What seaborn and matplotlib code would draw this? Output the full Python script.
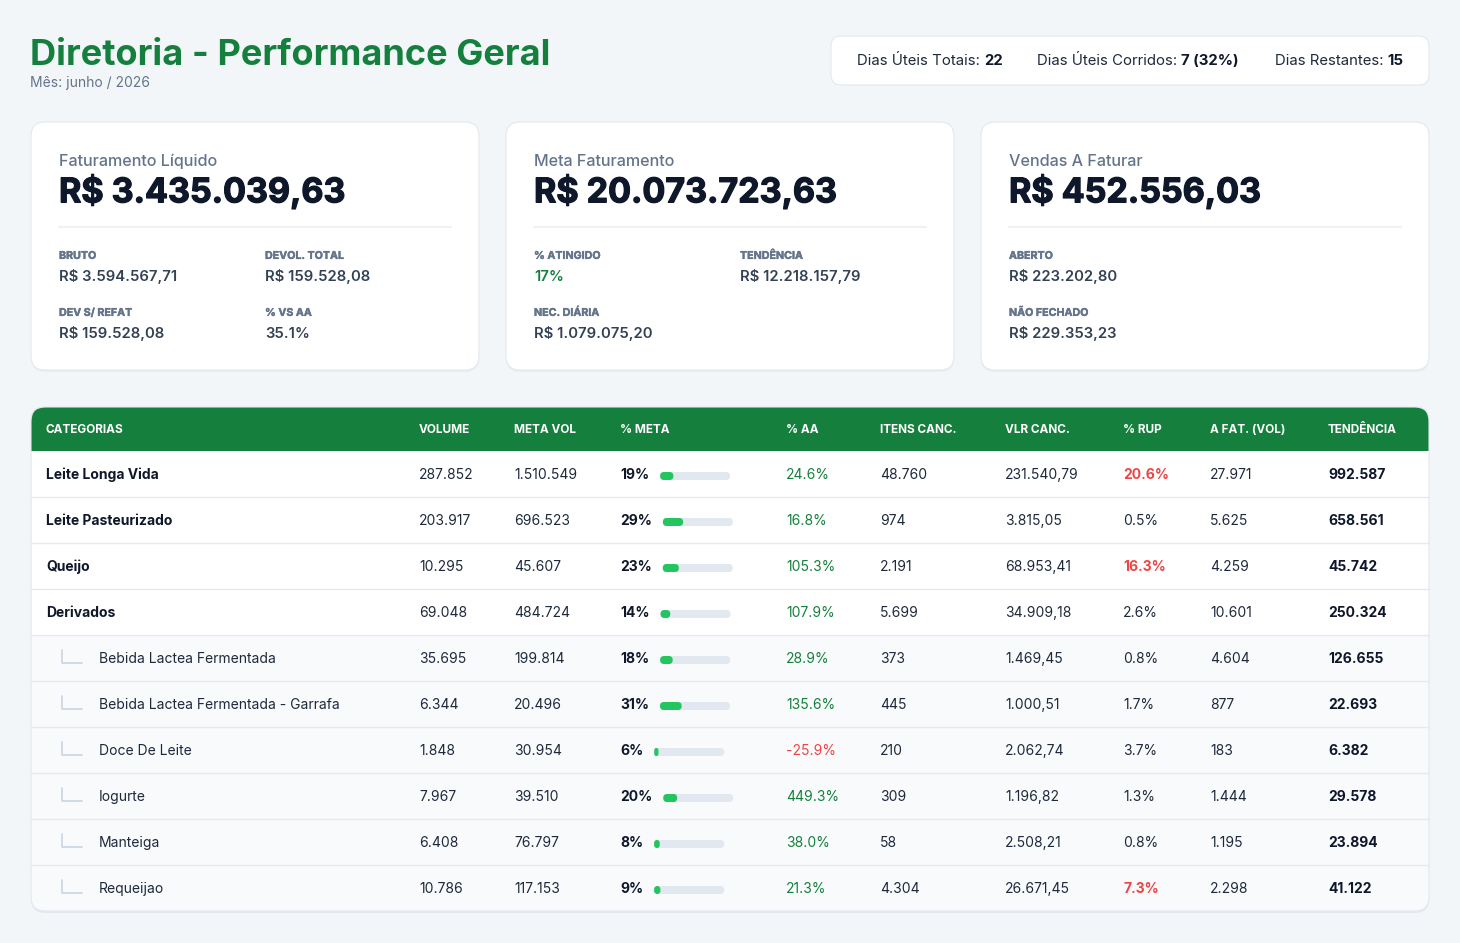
import matplotlib
matplotlib.use("Agg")
import matplotlib.pyplot as plt
import matplotlib.patheffects as pe
import seaborn as sns
import pandas as pd
from matplotlib.patches import FancyBboxPatch, Rectangle

# ---- dados ----
mes = "junho / 2026"
dias_totais = 22
dias_corridos = 7
dias_corridos_pct = 32
dias_restantes = 15

fat_liquido = 3435039.63
fat_bruto = 3594567.71
devol_total = 159528.08
dev_sem_refat = 159528.08
pct_vs_aa = 35.1

meta_fat = 20073723.63
pct_atingido = 17
tendencia_fat = 12218157.79
nec_diaria = 1079075.20

vendas_a_faturar = 452556.03
aberto = 223202.80
nao_fechado = 229353.23

categorias = ["Leite Longa Vida", "Leite Pasteurizado", "Queijo", "Derivados",
              "Bebida Lactea Fermentada", "Bebida Lactea Fermentada - Garrafa",
              "Doce De Leite", "Iogurte", "Manteiga", "Requeijao"]
nivel = [0, 0, 0, 0, 1, 1, 1, 1, 1, 1]
volume = [287852, 203917, 10295, 69048, 35695, 6344, 1848, 7967, 6408, 10786]
meta_vol = [1510549, 696523, 45607, 484724, 199814, 20496, 30954, 39510, 76797, 117153]
pct_meta = [19, 29, 23, 14, 18, 31, 6, 20, 8, 9]
pct_aa = [24.6, 16.8, 105.3, 107.9, 28.9, 135.6, -25.9, 449.3, 38.0, 21.3]
itens_canc = [48760, 974, 2191, 5699, 373, 445, 210, 309, 58, 4304]
vlr_canc = [231540.79, 3815.05, 68953.41, 34909.18, 1469.45, 1000.51, 2062.74, 1196.82, 2508.21, 26671.45]
pct_rup = [20.6, 0.5, 16.3, 2.6, 0.8, 1.7, 3.7, 1.3, 0.8, 7.3]
a_fat_vol = [27971, 5625, 4259, 10601, 4604, 877, 183, 1444, 1195, 2298]
tendencia = [992587, 658561, 45742, 250324, 126655, 22693, 6382, 29578, 23894, 41122]

colunas = ["CATEGORIAS", "VOLUME", "META VOL", "% META", "% AA", "ITENS CANC.",
           "VLR CANC.", "% RUP", "A FAT. (VOL)", "TENDÊNCIA"]

df = pd.DataFrame({"categoria": categorias, "nivel": nivel, "volume": volume,
                   "meta_vol": meta_vol, "pct_meta": pct_meta, "pct_aa": pct_aa,
                   "itens_canc": itens_canc, "vlr_canc": vlr_canc, "pct_rup": pct_rup,
                   "a_fat_vol": a_fat_vol, "tendencia": tendencia})


def br_int(n):
    return f"{n:,}".replace(",", ".")


def br_money(v):
    return "R$ " + f"{v:,.2f}".replace(",", "X").replace(".", ",").replace("X", ".")


def br_dec(v):
    return f"{v:,.2f}".replace(",", "X").replace(".", ",").replace("X", ".")


# ---- estilo ----
GREEN = "#15803d"
BAR_GREEN = "#22c55e"
RED = "#ef4444"
DARK = "#0f172a"
TEXT = "#1e293b"
VALUE = "#334155"
MUTED = "#64748b"
BORDER = "#e2e8f0"
BG = "#f3f6f9"

sns.set_theme(style="white")
plt.rcParams["font.family"] = ["Inter", "DejaVu Sans"]

W, H = 1460, 943
fig = plt.figure(figsize=(W / 100, H / 100), dpi=100, facecolor=BG)
ax = fig.add_axes([0, 0, 1, 1])
ax.set_xlim(0, W)
ax.set_ylim(H, 0)
ax.axis("off")
R = fig.canvas.get_renderer()


def width_of(s, size, weight="normal"):
    t = ax.text(0, 0, s, fontsize=size, fontweight=weight)
    w = t.get_window_extent(renderer=R).width
    t.remove()
    return w


def fit(s, target, weight="normal"):
    return 10 * target / width_of(s, 10, weight)


def txt(x, yc, s, size, color, weight="normal", ha="left"):
    # yc = centro visual das maiusculas
    base = yc + 0.727 * size * 100 / 72 / 2
    return ax.text(x, base, s, fontsize=size, color=color, fontweight=weight,
                   ha=ha, va="baseline")


def rbox(x, y, w, h, r, fc, ec="none", lw=0, z=1):
    p = FancyBboxPatch((x, y), w, h, boxstyle=f"round,pad=0,rounding_size={r}",
                       fc=fc, ec=ec, lw=lw, zorder=z)
    ax.add_patch(p)
    return p


S_TITLE = fit("Diretoria - Performance Geral", 521, "bold")
S_SUB = fit("Mês: junho / 2026", 120)
S_BOX = fit("Dias Restantes: 15", 129)
S_CARDT = fit("Faturamento Líquido", 159, "medium")
S_BIG = fit("R$ 3.435.039,63", 285, "bold")
S_LAB = fit("DEVOL. TOTAL", 79, "bold")
S_VAL = fit("R$ 3.594.567,71", 118, "semibold")
S_HEAD = fit("CATEGORIAS", 78, "bold")
S_ROW = fit("Bebida Lactea Fermentada - Garrafa", 241)

# ---- cabecalho ----
txt(30, 52, "Diretoria - Performance Geral", S_TITLE, GREEN, "bold")
txt(30, 82, f"Mês: {mes}", S_SUB, MUTED)

rbox(831, 36, 598, 49, 10, "white", BORDER, 0.8)
box_items = [("Dias Úteis Totais:", f"{dias_totais}", 857),
             ("Dias Úteis Corridos:", f"{dias_corridos} ({dias_corridos_pct}%)", 1037),
             ("Dias Restantes:", f"{dias_restantes}", 1275)]
for lab, val, x0 in box_items:
    t = txt(x0, 60, lab, S_BOX, TEXT)
    w = t.get_window_extent(renderer=R).width
    txt(x0 + w + 4, 60, val, S_BOX, DARK, "bold")

# ---- cards ----
card_titulos = ["Faturamento Líquido", "Meta Faturamento", "Vendas A Faturar"]
card_valores = [fat_liquido, meta_fat, vendas_a_faturar]
card_campos = [
    [("BRUTO", br_money(fat_bruto), VALUE), ("DEVOL. TOTAL", br_money(devol_total), VALUE),
     ("DEV S/ REFAT", br_money(dev_sem_refat), VALUE), ("% VS AA", f"{pct_vs_aa:.1f}%", VALUE)],
    [("% ATINGIDO", f"{pct_atingido}%", GREEN), ("TENDÊNCIA", br_money(tendencia_fat), VALUE),
     ("NEC. DIÁRIA", br_money(nec_diaria), VALUE)],
    [("ABERTO", br_money(aberto), VALUE), None, ("NÃO FECHADO", br_money(nao_fechado), VALUE)],
]
heavy = [pe.withStroke(linewidth=0.9, foreground=DARK)]
for i, (tit, val, campos) in enumerate(zip(card_titulos, card_valores, card_campos)):
    cx = 31 + i * 475
    rbox(cx, 124, 448, 248, 14, "#e9eef4", z=1)
    rbox(cx, 122, 448, 248, 14, "white", BORDER, 0.8, z=2)
    x0 = cx + 28
    txt(x0, 160, tit, S_CARDT, MUTED, "medium").set_zorder(3)
    big = txt(x0, 190, br_money(val), S_BIG, DARK, "bold")
    big.set_zorder(3)
    big.set_path_effects(heavy)
    ax.plot([x0, cx + 420], [227, 227], color="#eef2f6", lw=1.5, zorder=3)
    for k, campo in enumerate(campos):
        if campo is None:
            continue
        lab, v, col = campo
        fx = x0 + (k % 2) * 206
        fy = 255 + (k // 2) * 57
        lt = txt(fx, fy, lab, S_LAB, MUTED, "bold")
        lt.set_zorder(3)
        lt.set_path_effects([pe.withStroke(linewidth=0.3, foreground=MUTED)])
        txt(fx, fy + 21, v, S_VAL, col, "semibold").set_zorder(3)

# ---- tabela ----
TX, TW = 31, 1398
HEAD_TOP, HEAD_H = 407, 44
ROW_H = 46
n = len(df)
TH = HEAD_H + ROW_H * n
col_x = [46, 419, 514, 620, 786, 880, 1005, 1123, 1210, 1328]

rbox(TX, HEAD_TOP + 2, TW, TH, 14, "#e3e8ee", z=1)
rbox(TX, HEAD_TOP, TW, TH, 14, "#f8fafc", z=2)
rbox(TX, HEAD_TOP, TW, HEAD_H, 14, GREEN, z=3)
ax.add_patch(Rectangle((TX, HEAD_TOP + 20), TW, HEAD_H - 20, fc=GREEN, ec="none", zorder=3))
for c, x in zip(colunas, col_x):
    txt(x, HEAD_TOP + 22, c, S_HEAD, "white", "bold").set_zorder(4)

row_top = [HEAD_TOP + HEAD_H + ROW_H * i for i in range(n)]
row_c = [t + ROW_H / 2 for t in row_top]

for i, r in df.iterrows():
    top, yc = row_top[i], row_c[i]
    if r.nivel == 0:
        ax.add_patch(Rectangle((TX + 0.5, top), TW - 1, ROW_H, fc="white", ec="none", zorder=2.5))
    if i < n - 1:
        ax.plot([TX, TX + TW], [top + ROW_H, top + ROW_H], color="#e6eaf0", lw=1.0, zorder=4)
    if r.nivel == 0:
        txt(col_x[0], yc, r.categoria, S_ROW, DARK, "bold").set_zorder(5)
    else:
        ax.plot([62, 62, 82], [yc - 8, yc + 5, yc + 5], color="#cbd5e1", lw=1.2, zorder=5)
        txt(99, yc, r.categoria, S_ROW, TEXT).set_zorder(5)

    txt(col_x[1], yc, br_int(r.volume), S_ROW, TEXT).set_zorder(5)
    txt(col_x[2], yc, br_int(r.meta_vol), S_ROW, TEXT).set_zorder(5)
    t = txt(col_x[3], yc, f"{r.pct_meta}%", S_ROW, DARK, "bold")
    t.set_zorder(5)
    r_edge = t.get_window_extent(renderer=R).x1
    df.loc[i, "bar_left"] = r_edge + 11
    aa_col = RED if r.pct_aa < 0 else GREEN
    txt(col_x[4], yc, f"{r.pct_aa:.1f}%", S_ROW, aa_col).set_zorder(5)
    txt(col_x[5], yc, br_int(r.itens_canc), S_ROW, TEXT).set_zorder(5)
    txt(col_x[6], yc, br_dec(r.vlr_canc), S_ROW, TEXT).set_zorder(5)
    if r.pct_rup > 5:
        txt(col_x[7], yc, f"{r.pct_rup:.1f}%", S_ROW, RED, "bold").set_zorder(5)
    else:
        txt(col_x[7], yc, f"{r.pct_rup:.1f}%", S_ROW, TEXT).set_zorder(5)
    txt(col_x[8], yc, br_int(r.a_fat_vol), S_ROW, TEXT).set_zorder(5)
    txt(col_x[9], yc, br_int(r.tendencia), S_ROW, DARK, "bold").set_zorder(5)

# barras de progresso da meta (cantos arredondados sobre as barras do matplotlib)
BAR_W = 70
bar_y = [c + 2 for c in row_c]
trilho = ax.barh(bar_y, BAR_W, left=df["bar_left"], height=8, color=BORDER, zorder=5)
preench = ax.barh(bar_y, BAR_W * df["pct_meta"] / 100, left=df["bar_left"], height=8,
                  color=BAR_GREEN, zorder=6)
for cont, z in ((trilho, 5), (preench, 6)):
    for b in cont:
        x, y, w, h = b.get_x(), b.get_y(), b.get_width(), b.get_height()
        rbox(x, y, w, h, min(4, w / 2), b.get_facecolor(), z=z)
        b.set_visible(False)

rbox(TX, HEAD_TOP, TW, TH, 14, "none", BORDER, 0.8, z=7)

fig.savefig("out.png", dpi=100, facecolor=BG)
